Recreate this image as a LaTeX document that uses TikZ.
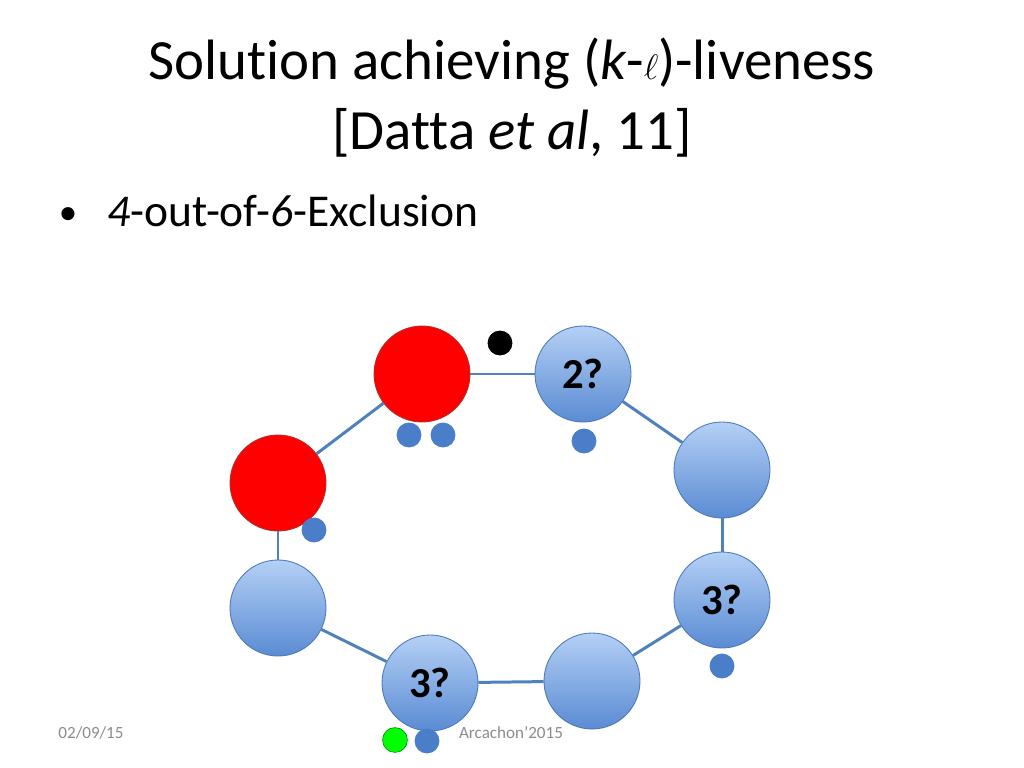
\documentclass[tikz,border=0pt]{standalone}
\usepackage{fontspec}
\setmainfont{Carlito}[Ligatures=CommonOff]
\begin{document}
\begin{tikzpicture}[x=0.703125pt,y=-0.703125pt,
  bluebig/.style={circle,inner sep=0pt,minimum size=67.5pt,draw=cblueline,line width=0.6pt,top color=ctop,bottom color=cbot,font=\fontsize{30}{32}\selectfont\bfseries},
  redbig/.style={circle,inner sep=0pt,minimum size=67.5pt,draw=credline,line width=0.6pt,fill=red},
  dot/.style={circle,inner sep=0pt,minimum size=17.5pt,fill=cdot},
  edge/.style={draw=cedge,line width=2.1pt}]
\definecolor{ctop}{HTML}{B4D0F5}
\definecolor{cbot}{HTML}{5A8BD3}
\definecolor{cblueline}{HTML}{4A78B8}
\definecolor{credline}{HTML}{B03030}
\definecolor{cdot}{HTML}{4A7EC8}
\definecolor{cedge}{HTML}{4F81BD}
\definecolor{cgray}{HTML}{8C8C8C}
\useasboundingbox[fill=white] (0,0) rectangle (1024,768);
% title
\node[anchor=base,font=\fontsize{40}{46}\selectfont] (t1) at (512,80) {Solution achieving ($\mathit{k}$-$\ell$)-liveness};
\node[anchor=base,font=\fontsize{40}{46}\selectfont] (t2) at (512,150) {[Datta \textit{et al}, 11]};
\node[anchor=base,font=\fontsize{26}{30}\selectfont,inner sep=0pt] (b1) at (68,225) {\textbullet};
\node[anchor=base west,font=\fontsize{32}{36}\selectfont,inner sep=0pt] (b2) at (107,227) {\textit{4}-out-of-\textit{6}-Exclusion};
% nodes
\node[redbig] (ra) at (422,374) {};
\node[bluebig] (b2q) at (583,374) {2?};
\node[bluebig] (brt) at (722,470) {};
\node[bluebig] (b3r) at (722,600) {3?};
\node[bluebig] (bbr) at (592,681) {};
\node[bluebig] (b3b) at (430,683) {3?};
\node[bluebig] (bl) at (278,608) {};
\node[redbig] (rl) at (278,483) {};
% edges
\path[edge] (ra) -- (b2q);
\path[edge] (b2q) -- (brt);
\path[edge] (brt) -- (b3r);
\path[edge] (b3r) -- (bbr);
\path[edge] (bbr) -- (b3b);
\path[edge] (b3b) -- (bl);
\path[edge] (bl) -- (rl);
\path[edge] (rl) -- (ra);
% dots
\node[dot,fill=black] (d0) at (500,343) {};
\node[dot] (d1) at (409,435) {};
\node[dot] (d2) at (443,435) {};
\node[dot] (d3) at (584,441) {};
\node[dot] (d4) at (314,530) {};
\node[dot] (d5) at (722,666) {};
\node[dot,fill=green,draw=green!50!black,line width=0.4pt] (d6) at (395,740) {};
\node[dot] (d7) at (427,741) {};
% footer
\node[anchor=base,font=\fontsize{12}{14}\selectfont,text=cgray,inner sep=0pt] (f1) at (91,738) {02/09/15};
\node[anchor=base,font=\fontsize{12}{14}\selectfont,text=cgray,inner sep=0pt] (f2) at (511,738) {Arcachon'2015};
\end{tikzpicture}
\end{document}
